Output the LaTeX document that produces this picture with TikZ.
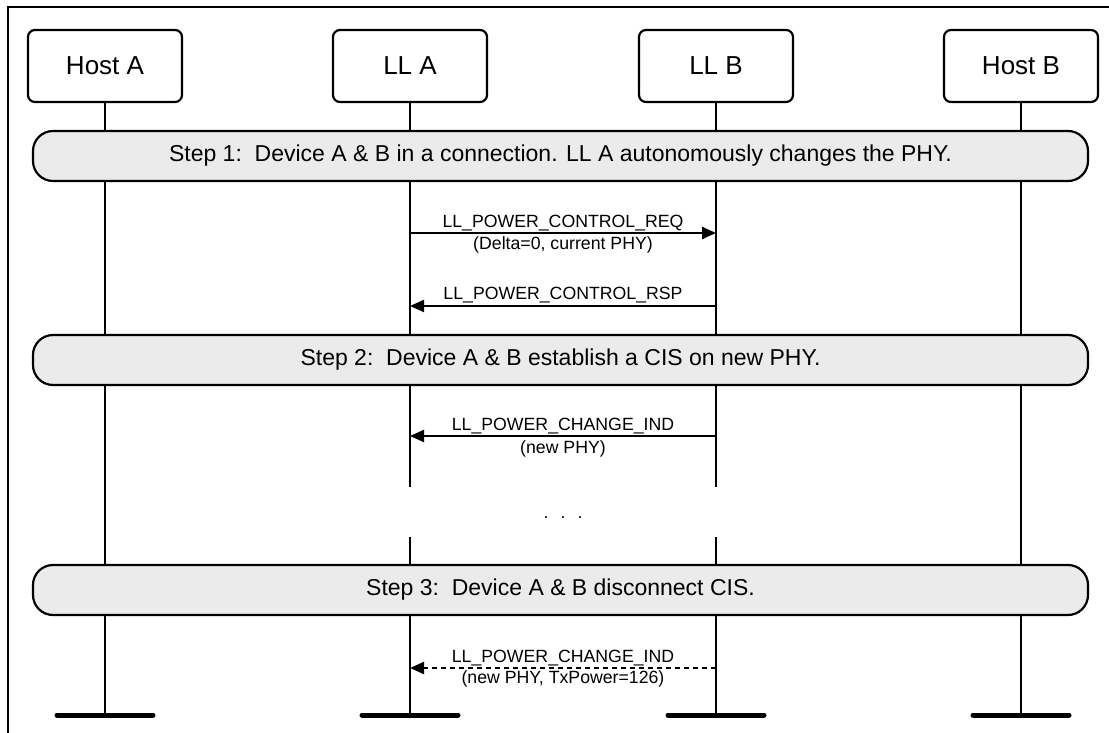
\documentclass[tikz,border=0pt]{standalone}
\usepackage{fontspec}
\setmainfont{Liberation Sans}
\usetikzlibrary{arrows.meta,calc}
\definecolor{stepgray}{HTML}{EBEBEB}
\tikzset{
  actor/.style={draw, line width=2.2pt, rounded corners=7pt, minimum width=154pt, minimum height=72pt, font=\fontsize{26}{30}\selectfont, fill=white},
  stepbanner/.style={draw, line width=2.2pt, rounded corners=20pt, fill=stepgray, minimum width=1055pt, minimum height=50pt, font=\fontsize{23}{27}\selectfont},
  lifeline/.style={line width=2.2pt},
  endbar/.style={line width=5pt, line cap=round},
  msg/.style={line width=2.2pt, -{Triangle[length=14pt,width=12pt]}},
  dashedmsg/.style={msg, dash pattern=on 5pt off 4pt},
  lbl/.style={font=\fontsize{17.7}{20}\selectfont, anchor=base, inner sep=0pt},
  frame/.style={line width=2.2pt},
}
\begin{document}
\begin{tikzpicture}[x=1pt,y=-1pt]
\useasboundingbox (0,0) rectangle (1109,733);
\draw[frame] (8,733) -- (8,7) -- (1109,7);

% actors
\node[actor] (hosta) at (105,66) {Host A};
\node[actor] (lla) at (410,66) {LL A};
\node[actor] (llb) at (716,66) {LL B};
\node[actor] (hostb) at (1021,66) {Host B};

% lifeline ends
\coordinate (hostaend) at (105,715);
\coordinate (llaend) at (410,715);
\coordinate (llbend) at (716,715);
\coordinate (hostbend) at (1021,715);
\coordinate (llagapa) at (410,487);
\coordinate (llagapb) at (410,537);
\coordinate (llbgapa) at (716,487);
\coordinate (llbgapb) at (716,537);

\draw[lifeline] (hosta.south) -- (hostaend);
\draw[lifeline] (hostb.south) -- (hostbend);
\draw[lifeline] (lla.south) -- (llagapa);
\draw[lifeline] (llagapb) -- (llaend);
\draw[lifeline] (llb.south) -- (llbgapa);
\draw[lifeline] (llbgapb) -- (llbend);

% end bars
\draw[endbar] ([xshift=-48pt]hostaend) -- ([xshift=48pt]hostaend);
\draw[endbar] ([xshift=-48pt]llaend) -- ([xshift=48pt]llaend);
\draw[endbar] ([xshift=-48pt]llbend) -- ([xshift=48pt]llbend);
\draw[endbar] ([xshift=-48pt]hostbend) -- ([xshift=48pt]hostbend);

% step banners
\node[stepbanner] (s1) at (560.5,156) {Step 1:\ \ Device A \& B in a connection. LL A autonomously changes the PHY.};
\node[stepbanner] (s2) at (560.5,360) {Step 2:\ \ Device A \& B establish a CIS on new PHY.};
\node[stepbanner] (s3) at (560.5,590) {Step 3:\ \ Device A \& B disconnect CIS.};

% messages
\coordinate (m1a) at (lla.south |- 0,233);
\coordinate (m1b) at (llb.south |- 0,233);
\draw[msg] (m1a) -- (m1b);
\node[lbl] (m1l) at (563,227) {LL\_POWER\_CONTROL\_REQ};
\node[lbl] (m1s) at (563,249) {(Delta=0, current PHY)};

\coordinate (m2a) at (llb.south |- 0,306);
\coordinate (m2b) at (lla.south |- 0,306);
\draw[msg] (m2a) -- (m2b);
\node[lbl] (m2l) at (563,299.5) {LL\_POWER\_CONTROL\_RSP};

\coordinate (m3a) at (llb.south |- 0,436);
\coordinate (m3b) at (lla.south |- 0,436);
\draw[msg] (m3a) -- (m3b);
\node[lbl] (m3l) at (563,430) {LL\_POWER\_CHANGE\_IND};
\node[lbl] (m3s) at (563,453) {(new PHY)};

\node[lbl] (dots) at (563,518) {\spaceskip=12.1pt\xspaceskip=12.1pt . . .};

\coordinate (m4a) at (llb.south |- 0,668);
\coordinate (m4b) at (lla.south |- 0,668);
\draw[dashedmsg] (m4a) -- (m4b);
\node[lbl] (m4l) at (563,662.5) {LL\_POWER\_CHANGE\_IND};
\node[lbl] (m4s) at (563,683) {(new PHY, TxPower=126)};
\end{tikzpicture}
\end{document}
